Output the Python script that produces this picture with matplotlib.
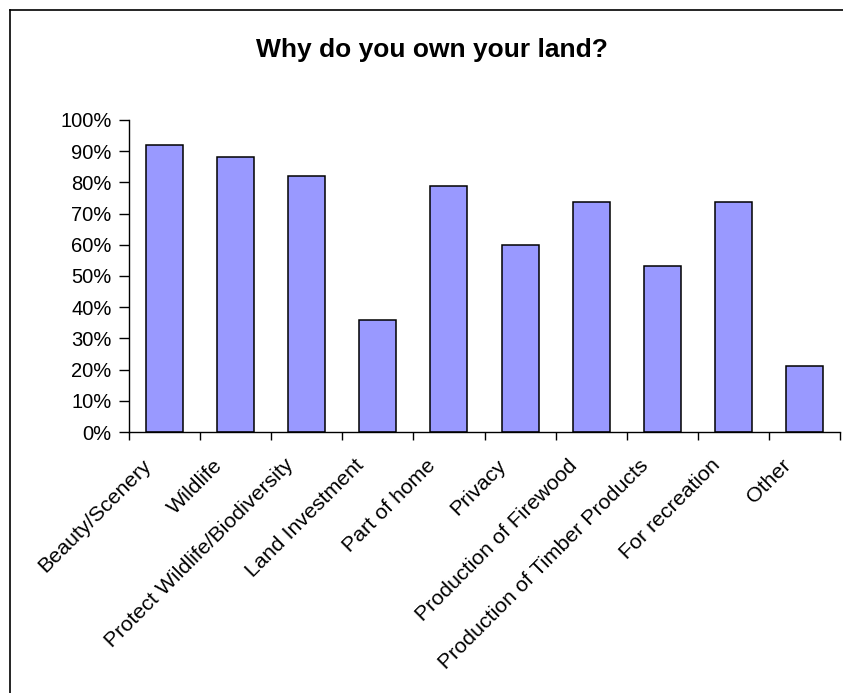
import numpy as np
import matplotlib
matplotlib.use("Agg")
import matplotlib.pyplot as plt
import matplotlib.transforms as mtransforms
from matplotlib.lines import Line2D
from matplotlib.ticker import PercentFormatter

# data
reasons = ["Beauty/Scenery", "Wildlife", "Protect Wildlife/Biodiversity",
           "Land Investment", "Part of home", "Privacy",
           "Production of Firewood", "Production of Timber Products",
           "For recreation", "Other"]
share = [92, 88, 82, 36, 79, 60, 73.6, 53.3, 73.6, 21]

plt.rcParams["font.family"] = ["Liberation Sans", "DejaVu Sans"]

fig = plt.figure(figsize=(8.43, 6.93), dpi=100)
ax = fig.add_axes([129/843, 1 - 432/693, 711/843, 312/693])

x = np.arange(len(reasons))
ax.bar(x, share, width=0.52, color="#9999FF", edgecolor="black", linewidth=1.1)

ax.set_xlim(-0.5, len(reasons) - 0.5)
ax.set_ylim(0, 100)
ax.set_yticks(np.arange(0, 101, 10))
ax.yaxis.set_major_formatter(PercentFormatter(decimals=0))
ax.tick_params(axis="y", direction="out", length=7, width=1, labelsize=14.5, pad=5.5)

# category labels at centres, tick marks at the boundaries
ax.set_xticks(x)
ax.set_xticklabels(reasons, rotation=45, ha="right", va="top", fontsize=15.4)
ax.set_xticks(np.arange(-0.5, len(reasons)), minor=True)
ax.tick_params(axis="x", which="major", length=0, pad=17)
ax.tick_params(axis="x", which="minor", direction="out", length=6, width=1)
shift = mtransforms.ScaledTranslation(-7/72, 0, fig.dpi_scale_trans)
for lab in ax.get_xticklabels():
    lab.set_transform(lab.get_transform() + shift)

for side in ["top", "right"]:
    ax.spines[side].set_visible(False)
for side in ["left", "bottom"]:
    ax.spines[side].set_linewidth(1)

fig.text(431.5/843, 1 - 50/693, "Why do you own your land?", ha="center",
         va="center", fontsize=19, fontweight="bold")

# chart frame (only top and left edges fall inside the picture)
fig.add_artist(Line2D([10/843, 1.0], [1 - 10/693] * 2, color="black", lw=1.2))
fig.add_artist(Line2D([10/843] * 2, [0.0, 1 - 10/693], color="black", lw=1.2))

fig.savefig("out.png", dpi=100)
